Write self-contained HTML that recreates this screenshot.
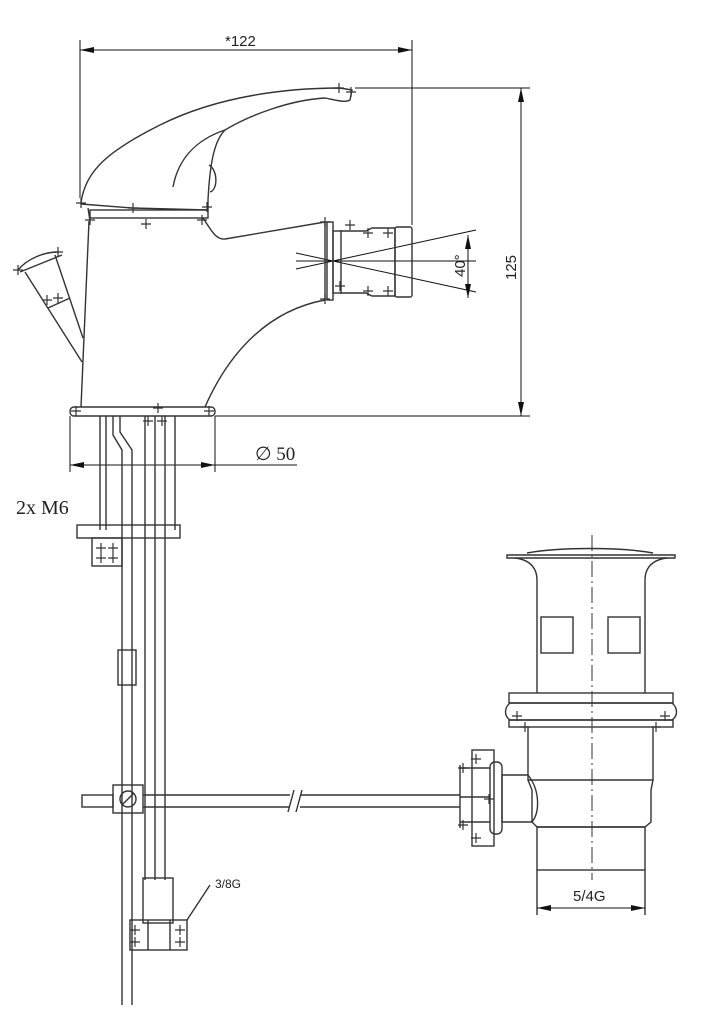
<!DOCTYPE html>
<html><head><meta charset="utf-8"><style>
html,body{margin:0;padding:0;background:#fff;}
svg{display:block;}
text{font-family:"Liberation Sans",sans-serif;fill:#222;}
</style></head><body>
<svg width="702" height="1024" viewBox="0 0 702 1024" xmlns="http://www.w3.org/2000/svg">
<defs>
<marker id="a" markerWidth="14" markerHeight="6" refX="14" refY="3" orient="auto-start-reverse" markerUnits="userSpaceOnUse"><path d="M0,0 L14,3 L0,6 z" fill="#111"/></marker>
</defs>
<g stroke="#111" stroke-width="1" fill="none">
<line x1="80" y1="40" x2="80" y2="198"/>
<line x1="412" y1="40" x2="412" y2="225"/>
<line x1="80" y1="50" x2="412" y2="50" marker-start="url(#a)" marker-end="url(#a)"/>
<line x1="355" y1="88" x2="530" y2="88"/>
<line x1="215" y1="416" x2="530" y2="416"/>
<line x1="521" y1="88" x2="521" y2="416" marker-start="url(#a)" marker-end="url(#a)"/>
<line x1="468" y1="235" x2="468" y2="298" marker-start="url(#a)" marker-end="url(#a)"/>
<line x1="296" y1="261" x2="476" y2="261"/>
<line x1="296" y1="269" x2="476" y2="230"/>
<line x1="296" y1="253" x2="476" y2="292"/>
<line x1="70" y1="416" x2="70" y2="472"/>
<line x1="215" y1="416" x2="215" y2="472"/>
<line x1="70" y1="465" x2="215" y2="465" marker-start="url(#a)" marker-end="url(#a)"/>
<line x1="215" y1="465" x2="297" y2="465"/>
</g>
<g stroke="#333" stroke-width="1.4" fill="none">
<path d="M81,203 C85,170 110,150 160,125 C220,95 290,88 340,88 L352,90 L350,100 C345,103 335,100 325,98 C290,100 250,115 225,130 C215,140 210,160 208,200 L208,210"/>
<path d="M173,187 C178,160 195,140 225,130"/>
<path d="M209,165 C218,170 218,190 210,192"/>
<path d="M81,204 L132,208 L208,210"/>
<path d="M90,221 L88,208"/>
<rect x="90" y="210" width="118" height="8"/>
<path d="M89,221 L81,407"/>
<path d="M203,218 C210,228 215,240 225,239 L325,222 L325,300 C270,310 230,350 205,407"/>
<rect x="70" y="407" width="145" height="9" rx="4"/>
<rect x="327" y="222" width="6" height="78"/>
<rect x="333" y="231" width="8" height="62"/>
<path d="M340,231 L366,231 L372,228 L395,228 L395,296 L372,296 L366,293 L340,293"/>
<rect x="395" y="227" width="17" height="70" rx="2"/>
<!-- left lever -->
<path d="M18,270 C28,258 45,252 58,252"/>
<path d="M20,272 L62,255"/>
<path d="M25,272 L82,362"/>
<path d="M55,255 L83,338"/>
<path d="M48,308 L70,298"/>
<!-- pipes -->
<line x1="100" y1="416" x2="100" y2="530"/>
<line x1="106" y1="416" x2="106" y2="530"/>
<path d="M113,416 L113,435 L122,450 L122,1005"/>
<path d="M120,416 L120,432 L132,450 L132,1005"/>
<line x1="145" y1="416" x2="145" y2="880"/>
<line x1="155" y1="416" x2="155" y2="880"/>
<line x1="165" y1="416" x2="165" y2="880"/>
<line x1="175" y1="416" x2="175" y2="530"/>
<rect x="77" y="525" width="103" height="13"/>
<rect x="92" y="538" width="30" height="28"/>
<rect x="118" y="650" width="18" height="35"/>
<rect x="113" y="785" width="30" height="28"/>
<circle cx="128" cy="799" r="8"/>
<line x1="122" y1="805" x2="134" y2="793"/>
<rect x="82" y="795" width="31" height="12"/>
<line x1="143" y1="795" x2="290" y2="795"/>
<line x1="143" y1="807" x2="290" y2="807"/>
<line x1="300" y1="795" x2="460" y2="795"/>
<line x1="300" y1="807" x2="460" y2="807"/>
<path d="M288,812 L294,790 M296,812 L302,790"/>
<rect x="143" y="878" width="30" height="45"/>
<rect x="130" y="920" width="57" height="30"/>
<line x1="148" y1="920" x2="148" y2="950"/>
<line x1="170" y1="920" x2="170" y2="950"/>
<path d="M187,920 L210,885"/>
<!-- waste -->
<path d="M507,555 L675,555 L675,558 L507,558 z"/>
<path d="M527,553 C560,547 620,547 653,553"/>
<path d="M515,558 C532,560 537,570 537,580 L537,693 M667,558 C650,560 645,570 645,580 L645,693"/>
<rect x="541" y="617" width="32" height="36"/>
<rect x="608" y="617" width="32" height="36"/>
<rect x="509" y="693" width="164" height="10"/>
<path d="M510,703 L672,703 C678,708 678,716 672,720 L510,720 C504,716 504,708 510,703 z"/>
<rect x="509" y="720" width="164" height="7"/>
<path d="M528,727 L528,780 L653,780 L653,727"/>
<path d="M528,780 L532,790 L532,822 L537,827 L645,827 L651,822 L651,790 L653,780"/>
<rect x="537" y="827" width="108" height="43"/>
<line x1="537" y1="870" x2="537" y2="915"/>
<line x1="645" y1="870" x2="645" y2="915"/>
<path d="M528,775 L502,775 L502,822 L532,822"/>
<path d="M528,775 C540,790 540,812 532,822"/>
<rect x="490" y="762" width="12" height="72" rx="5"/>
<rect x="472" y="750" width="22" height="96"/>
<path d="M460,765 L460,828 M460,768 L490,768 M460,797 L490,797 M460,822 L490,822"/>
</g>
<!-- crosses -->
<g stroke="#333" stroke-width="1.2">
<path d="M76,203h10M81,198v10 M128,208h10M133,203v10 M85,220h10M90,215v10 M141,224h10M146,219v10 M197,220h10M202,215v10 M202,207h10M207,202v10 M334,88h10M339,83v10 M346,92h10M351,87v10 M320,222h10M325,217v10 M320,299h10M325,294v10 M345,225h10M350,220v10 M363,233h10M368,228v10 M363,291h10M368,286v10 M335,286h10M340,281v10 M383,291h10M388,286v10 M383,233h10M388,228v10 M13,270h10M18,265v10 M53,252h10M58,247v10 M42,300h10M47,295v10 M53,298h10M58,293v10 M71,411h10M76,406v10 M204,411h10M209,406v10 M153,408h10M158,403v10"/>
<path d="M96,548h10M101,543v10 M108,548h10M113,543v10 M96,558h10M101,553v10 M108,558h10M113,553v10 M143,421h10M148,416v10 M157,421h10M162,416v10"/>
<path d="M130,930h10M135,925v10 M130,942h10M135,937v10 M175,930h10M180,925v10 M175,942h10M180,937v10"/>
<path d="M512,716h10M517,711v10 M660,716h10M665,711v10 M520,727h10M525,722v10 M651,727h10M656,722v10 M471,759h10M476,754v10 M471,838h10M476,833v10 M458,768h10M463,763v10 M458,825h10M463,820v10 M484,799h10M489,794v10"/>
</g>
<line x1="592" y1="535" x2="592" y2="880" stroke="#333" stroke-width="1" stroke-dasharray="16,4,2,4"/>
<line x1="537" y1="908" x2="645" y2="908" stroke="#111" stroke-width="1" marker-start="url(#a)" marker-end="url(#a)"/>
<text x="225" y="46" font-size="15">*122</text>
<text x="0" y="0" font-size="15" transform="translate(516,280) rotate(-90)">125</text>
<text x="0" y="0" font-size="15" transform="translate(465,277) rotate(-90)">40°</text>
<text x="255" y="460" font-size="19" style="font-family:'Liberation Serif',serif">∅ 50</text>
<text x="16" y="514" font-size="20" style="font-family:'Liberation Serif',serif">2x M6</text>
<text x="215" y="888" font-size="12">3/8G</text>
<text x="573" y="901" font-size="15">5/4G</text>
</svg>
</body></html>
